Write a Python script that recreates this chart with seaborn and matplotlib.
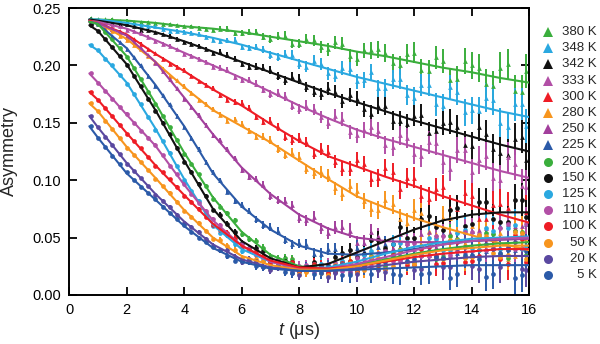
import numpy as np
import pandas as pd
import matplotlib
matplotlib.use("Agg")
import matplotlib.pyplot as plt
import seaborn as sns
from matplotlib.lines import Line2D

sns.set_style("ticks")
plt.rcParams['font.family'] = ['Liberation Sans', 'DejaVu Sans']
plt.rcParams['mathtext.fontset'] = 'custom'
plt.rcParams['mathtext.it'] = 'Liberation Sans:italic'
plt.rcParams['mathtext.rm'] = 'Liberation Sans'

# ---------------- data ----------------
labels = ["380 K", "348 K", "342 K", "333 K", "300 K", "280 K", "250 K", "225 K",
          "200 K", "150 K", "125 K", "110 K", "100 K", "50 K", "20 K", "5 K"]
colors = ["#3aae3c", "#2aa8e0", "#111111", "#b24fa6", "#ee1c25", "#f7951e", "#a23f9c", "#2b5aa8",
          "#3aae3c", "#111111", "#2aa8e0", "#b24fa6", "#ee1c25", "#f7951e", "#5a48a0", "#2b5aa8"]
markers = ["^"] * 8 + ["o"] * 8

# fit-curve knots (time in us)
t_fit = [0.7, 1, 2, 3, 4, 5, 6, 7, 8, 9, 10, 11, 12, 13, 14, 15, 16]
fit_380 = [.240, .240, .239, .237, .234, .232, .229, .225, .221, .217, .212, .208, .203, .198, .194, .189, .185]
fit_348 = [.240, .240, .237, .233, .229, .224, .218, .211, .204, .197, .190, .184, .178, .172, .166, .160, .155]
fit_342 = [.240, .239, .235, .229, .221, .212, .203, .194, .185, .176, .168, .160, .152, .145, .138, .131, .125]
fit_333 = [.239, .238, .232, .222, .211, .200, .189, .177, .165, .154, .144, .136, .129, .122, .115, .108, .102]
fit_300 = [.239, .237, .227, .210, .195, .179, .165, .149, .134, .121, .112, .103, .095, .086, .078, .070, .063]
fit_280 = [.238, .237, .223, .203, .181, .161, .147, .133, .117, .101, .086, .076, .067, .059, .052, .045, .039]
fit_250 = [.238, .237, .226, .203, .172, .140, .111, .088, .070, .058, .050, .047, .046, .046, .047, .048, .049]
fit_225 = [.238, .236, .215, .183, .147, .106, .077, .057, .043, .036, .035, .037, .040, .044, .047, .049, .050]
fit_200 = [.238, .236, .208, .167, .124, .085, .055, .035, .025, .023, .026, .031, .036, .040, .043, .045, .046]
fit_150 = [.235, .230, .201, .161, .117, .075, .047, .032, .024, .027, .037, .047, .057, .065, .070, .072, .072]
fit_125 = [.218, .213, .185, .145, .101, .061, .040, .029, .023, .024, .029, .036, .042, .046, .049, .050, .051]
fit_110 = [.193, .185, .157, .130, .096, .065, .043, .029, .023, .023, .027, .033, .039, .044, .047, .049, .050]
fit_100 = [.177, .170, .141, .113, .087, .062, .043, .030, .024, .023, .025, .029, .033, .036, .038, .040, .040]
fit_50 = [.167, .160, .129, .102, .074, .050, .034, .026, .022, .022, .025, .030, .035, .039, .041, .043, .043]
fit_20 = [.156, .146, .115, .088, .064, .044, .031, .024, .021, .021, .023, .026, .029, .031, .033, .034, .034]
fit_5 = [.147, .137, .106, .083, .060, .041, .029, .023, .021, .021, .022, .023, .024, .025, .026, .026, .026]

# measured points, first group of time bins
t_pts = [0.75, 1.0, 1.5, 2.0, 2.5, 3.0, 3.5, 4.0, 4.5, 5.0, 5.5, 6.0, 6.5, 7.0, 7.5, 8.0,
         8.5, 9.0, 9.5, 10.0, 10.5, 11.0, 11.5, 12.0, 12.5, 13.0, 13.5, 14.0, 14.5, 15.0, 15.5, 15.9]
err = [.0008, .0008, .0009, .0010, .0010, .0011, .0013, .0015, .0017, .0019, .0023, .0026, .0029, .0033, .0037, .0042,
       .0048, .0054, .0060, .0066, .0072, .0078, .0085, .0092, .0098, .0105, .0112, .0118, .0125, .0133, .0140, .0148]
pts_380 = [.241, .240, .240, .239, .238, .237, .236, .234, .233, .231, .232, .228, .229, .223, .226, .219,
           .222, .214, .219, .206, .213, .211, .200, .211, .195, .204, .188, .200, .184, .198, .178, .195]
pts_348 = [.240, .239, .239, .236, .235, .234, .230, .229, .227, .222, .222, .216, .216, .209, .210, .201,
           .204, .193, .198, .186, .194, .180, .188, .172, .183, .165, .177, .161, .172, .150, .166, .147]
pts_342 = [.240, .239, .237, .236, .231, .229, .226, .220, .217, .211, .209, .201, .199, .196, .187, .188,
           .177, .180, .169, .171, .158, .165, .152, .156, .141, .150, .146, .130, .140, .124, .136, .118]
pts_333 = [.239, .238, .235, .231, .228, .221, .217, .210, .206, .199, .196, .187, .184, .175, .173, .162,
           .162, .150, .153, .139, .146, .131, .139, .123, .133, .116, .126, .107, .121, .100, .114, .094]
pts_300 = [.239, .237, .232, .226, .219, .211, .201, .196, .186, .180, .170, .167, .155, .152, .138, .137,
           .123, .125, .110, .118, .101, .111, .092, .102, .084, .094, .075, .086, .066, .079, .058, .072]
pts_280 = [.238, .237, .230, .222, .214, .203, .191, .182, .170, .162, .152, .149, .138, .135, .122, .120,
           .106, .104, .088, .091, .075, .083, .066, .074, .056, .067, .049, .060, .040, .054, .034, .048]
pts_250 = [.238, .237, .232, .225, .215, .202, .188, .171, .157, .139, .127, .109, .101, .086, .082, .067,
           .068, .054, .059, .045, .055, .041, .053, .040, .055, .037, .056, .039, .058, .036, .060, .041]
pts_225 = [.238, .236, .226, .214, .200, .182, .166, .146, .127, .107, .090, .078, .066, .059, .048, .045,
           .036, .040, .031, .041, .030, .044, .032, .048, .035, .053, .037, .056, .038, .060, .039, .062]
pts_200 = [.238, .236, .223, .207, .188, .166, .146, .123, .105, .084, .071, .053, .047, .033, .032, .022,
           .027, .019, .029, .021, .034, .025, .040, .029, .045, .033, .049, .034, .054, .036, .056, .035]
pts_150 = [.235, .230, .216, .200, .182, .160, .140, .116, .097, .074, .062, .045, .041, .030, .030, .021,
           .029, .022, .037, .033, .048, .041, .059, .050, .069, .057, .076, .062, .081, .064, .083, .068]
pts_125 = [.218, .213, .200, .184, .166, .144, .124, .100, .082, .060, .052, .038, .036, .027, .028, .020,
           .027, .020, .030, .024, .038, .031, .045, .035, .050, .039, .054, .041, .058, .040, .061, .043]
pts_110 = [.193, .185, .171, .158, .143, .131, .112, .097, .080, .066, .053, .044, .035, .031, .024, .025,
           .020, .027, .021, .032, .025, .038, .030, .045, .034, .051, .038, .055, .039, .058, .040, .062]
pts_100 = [.177, .170, .156, .140, .128, .112, .101, .086, .075, .061, .054, .042, .038, .028, .029, .021,
           .027, .019, .028, .020, .032, .023, .038, .026, .042, .028, .046, .030, .049, .031, .052, .029]
pts_50 = [.167, .160, .145, .128, .116, .101, .089, .073, .063, .049, .043, .032, .031, .023, .026, .018,
          .025, .017, .027, .019, .033, .023, .039, .027, .045, .031, .048, .033, .051, .033, .055, .031]
pts_20 = [.156, .146, .131, .114, .102, .087, .077, .063, .055, .043, .039, .029, .030, .022, .025, .017,
          .024, .016, .027, .018, .029, .020, .034, .022, .038, .024, .041, .025, .044, .024, .046, .022]
pts_5 = [.147, .137, .121, .107, .094, .084, .071, .061, .050, .042, .034, .030, .025, .024, .020, .023,
         .018, .025, .017, .027, .018, .029, .017, .031, .019, .032, .018, .035, .016, .037, .015, .038]

# measured points, second (interleaved) group of time bins
t_pts2 = [1.25, 1.75, 2.25, 2.75, 3.25, 3.75, 4.25, 4.75, 5.25, 5.75, 6.25, 6.75, 7.25, 7.75, 8.25,
          8.75, 9.25, 9.75, 10.25, 10.75, 11.25, 11.75, 12.25, 12.75, 13.25, 13.75, 14.25, 14.75, 15.25, 15.75]
err2 = [.0008, .0009, .0010, .0011, .0012, .0014, .0016, .0018, .0021, .0024, .0027, .0031, .0035, .0040, .0045,
        .0051, .0057, .0063, .0069, .0075, .0082, .0088, .0095, .0102, .0108, .0115, .0122, .0129, .0136, .0144]
pts2_380 = [.240, .239, .238, .238, .236, .235, .234, .232, .232, .228, .229, .225, .226, .219, .223,
            .216, .220, .208, .213, .214, .202, .210, .196, .207, .187, .204, .198, .182, .201, .177]
pts2_348 = [.239, .238, .236, .234, .232, .230, .228, .225, .221, .222, .215, .214, .207, .209, .199,
            .201, .191, .197, .187, .180, .188, .174, .183, .166, .181, .159, .160, .170, .146, .166]
pts2_342 = [.238, .236, .234, .231, .227, .223, .219, .214, .212, .206, .199, .198, .191, .190, .181,
            .175, .177, .174, .162, .165, .152, .149, .157, .143, .151, .131, .146, .127, .122, .138]
pts2_333 = [.237, .234, .230, .225, .219, .214, .208, .203, .198, .190, .187, .179, .176, .165, .165,
            .155, .156, .142, .144, .143, .129, .137, .121, .132, .110, .126, .118, .102, .120, .095]
pts2_300 = [.234, .230, .223, .214, .206, .199, .191, .183, .174, .168, .163, .151, .146, .135, .133,
            .127, .116, .110, .114, .102, .107, .102, .086, .092, .076, .089, .066, .078, .076, .054]
pts2_280 = [.233, .226, .218, .208, .197, .187, .176, .166, .157, .153, .143, .138, .127, .124, .110,
            .107, .093, .095, .082, .074, .079, .063, .071, .053, .067, .045, .045, .055, .031, .050]
pts2_250 = [.234, .229, .220, .209, .195, .180, .164, .148, .135, .119, .103, .096, .083, .078, .065,
            .058, .059, .056, .045, .051, .041, .041, .053, .042, .054, .038, .057, .042, .040, .060]
pts2_225 = [.231, .220, .207, .191, .174, .156, .137, .116, .100, .082, .073, .061, .056, .044, .044,
            .036, .040, .030, .038, .042, .033, .045, .035, .051, .035, .055, .053, .041, .062, .041]
pts2_200 = [.229, .215, .198, .177, .156, .135, .114, .095, .077, .065, .049, .041, .031, .031, .022,
            .026, .020, .030, .025, .025, .037, .029, .043, .031, .051, .033, .039, .053, .032, .055]
pts2_150 = [.223, .208, .191, .171, .150, .128, .107, .086, .070, .055, .041, .038, .029, .029, .023,
            .024, .033, .039, .036, .048, .044, .050, .066, .059, .074, .060, .081, .066, .064, .083]
pts2_125 = [.206, .192, .175, .155, .134, .112, .091, .071, .054, .044, .039, .030, .029, .022, .025,
            .027, .022, .024, .035, .031, .044, .046, .036, .049, .039, .057, .039, .056, .058, .040]
pts2_110 = [.178, .164, .150, .137, .122, .105, .088, .073, .061, .047, .041, .032, .030, .022, .026,
            .021, .028, .021, .031, .037, .030, .044, .034, .051, .035, .055, .053, .041, .062, .041]
pts2_100 = [.163, .148, .134, .120, .107, .094, .081, .068, .057, .050, .039, .034, .027, .029, .021,
            .025, .020, .030, .024, .023, .035, .026, .040, .027, .047, .029, .034, .048, .027, .049]
pts2_50 = [.152, .137, .122, .109, .095, .081, .068, .056, .048, .039, .030, .030, .024, .026, .020,
           .019, .026, .028, .022, .032, .025, .029, .043, .034, .048, .032, .052, .037, .035, .054]
pts2_20 = [.138, .123, .108, .095, .082, .070, .059, .049, .039, .033, .031, .024, .024, .019, .023,
           .024, .019, .019, .028, .022, .033, .033, .023, .034, .024, .042, .023, .040, .042, .023]
pts2_5 = [.129, .114, .100, .089, .077, .066, .055, .046, .039, .030, .029, .024, .025, .019, .024,
          .019, .025, .017, .024, .028, .018, .030, .018, .033, .015, .035, .031, .018, .039, .017]

fits = [fit_380, fit_348, fit_342, fit_333, fit_300, fit_280, fit_250, fit_225,
        fit_200, fit_150, fit_125, fit_110, fit_100, fit_50, fit_20, fit_5]
pts = [pts_380, pts_348, pts_342, pts_333, pts_300, pts_280, pts_250, pts_225,
       pts_200, pts_150, pts_125, pts_110, pts_100, pts_50, pts_20, pts_5]
pts2 = [pts2_380, pts2_348, pts2_342, pts2_333, pts2_300, pts2_280, pts2_250, pts2_225,
        pts2_200, pts2_150, pts2_125, pts2_110, pts2_100, pts2_50, pts2_20, pts2_5]

fit_df = pd.concat([pd.DataFrame({"t": t_fit, "A": f, "T": lab}) for f, lab in zip(fits, labels)])

# ---------------- figure ----------------
fig = plt.figure(figsize=(6.0, 3.44), dpi=100)
ax = fig.add_axes([69.2 / 600, 1 - 295 / 344, 460 / 600, 287 / 344])

for lab, c, m, p, p2 in zip(labels, colors, markers, pts, pts2):
    for tt, yy, ee in ((t_pts, p, err), (t_pts2, p2, err2)):
        ax.errorbar(tt, yy, yerr=ee, fmt=m, ms=3.4, color=c, mec=c, mew=0,
                    elinewidth=1.4, capsize=0, zorder=2)

sns.lineplot(data=fit_df, x="t", y="A", hue="T", palette=dict(zip(labels, colors)),
             hue_order=labels, linewidth=1.5, legend=False, ax=ax, zorder=3, sort=True)

ax.set_xlim(0, 16)
ax.set_ylim(0, 0.25)
ax.set_xticks(range(0, 17, 2))
ax.set_yticks([0, 0.05, 0.10, 0.15, 0.20, 0.25])
ax.set_yticklabels(["0.00", "0.05", "0.10", "0.15", "0.20", "0.25"])
ax.tick_params(direction="in", top=True, right=True, length=5.5, width=1.3,
               labelsize=10.5, pad=6, colors="black")
for s in ax.spines.values():
    s.set_linewidth(1.4)
    s.set_color("black")
ax.set_xlabel("$t$ (μs)", fontsize=13, labelpad=2)
ax.set_ylabel("Asymmetry", fontsize=13, labelpad=10)

# legend column on the right
for i, (lab, c, m) in enumerate(zip(labels, colors, markers)):
    yp = 1 - (32 + 16.2 * i) / 344
    fig.add_artist(Line2D([548 / 600], [yp], marker=m, color=c, linestyle="none",
                          markersize=7.5 if m == "^" else 6.5, mew=0,
                          transform=fig.transFigure))
    fig.text(597 / 600, yp, lab, ha="right", va="center", fontsize=9.5)

fig.savefig("out.png", dpi=100)
